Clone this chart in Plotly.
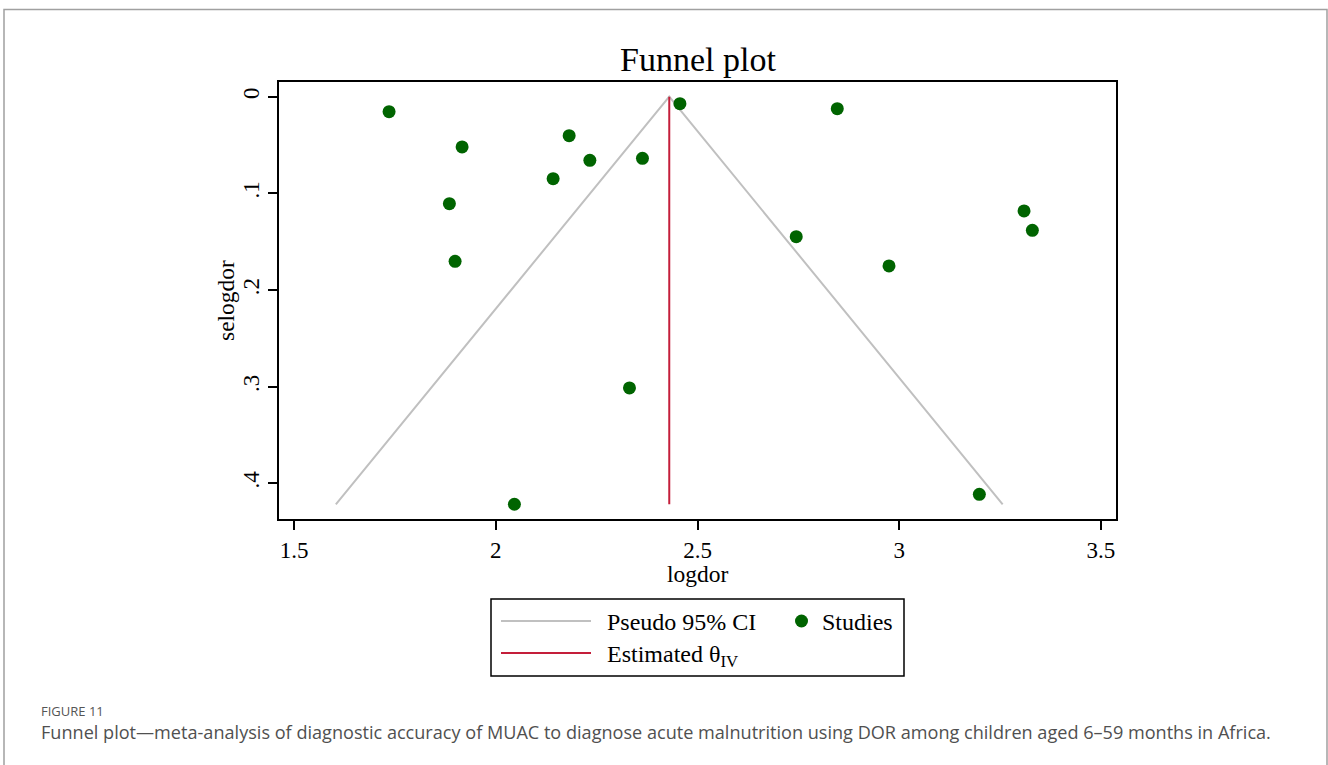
import plotly.graph_objects as go

# Study estimates: log diagnostic odds ratio and its standard error
logdor = [1.7356, 1.9166, 1.8851, 1.8992, 2.1819, 2.2332, 2.1422, 2.3636, 2.4564,
          2.8464, 2.7447, 2.9746, 3.3093, 3.3299, 2.3314, 2.0462, 3.1985]
selogdor = [0.0155, 0.0520, 0.1107, 0.1703, 0.0403, 0.0658, 0.0848, 0.0637, 0.0072,
            0.0124, 0.1448, 0.1751, 0.1182, 0.1382, 0.3013, 0.4216, 0.4113]

# Inverse-variance pooled estimate and pseudo 95% CI funnel vertices
theta_iv = 2.43
se_max = 0.4216
ci_x = [1.6037, 2.43, 3.2563]
ci_y = [0.4216, 0.0, 0.4216]

x_ticks = [1.5, 2, 2.5, 3, 3.5]
x_tick_text = ["1.5", "2", "2.5", "3", "3.5"]
y_ticks = [0, 0.1, 0.2, 0.3, 0.4]
y_tick_text = ["0", ".1", ".2", ".3", ".4"]

GREEN = "#006400"
RED = "#C41E3A"
GREY = "#C0C0C0"
SERIF = "Liberation Serif, Times New Roman, serif"
SANS = "Open Sans, Noto Sans, sans-serif"

fig = go.Figure()
fig.add_trace(go.Scatter(x=ci_x, y=ci_y, mode="lines",
                         line=dict(color=GREY, width=2), name="Pseudo 95% CI",
                         showlegend=False))
fig.add_trace(go.Scatter(x=[theta_iv, theta_iv], y=[0, se_max], mode="lines",
                         line=dict(color=RED, width=2), name="Estimated θ<sub>IV</sub>",
                         showlegend=False))
fig.add_trace(go.Scatter(x=logdor, y=selogdor, mode="markers",
                         marker=dict(color=GREEN, size=13, line=dict(width=0)),
                         name="Studies", showlegend=False))

L, R, T, B = 279, 1116, 82, 519
W, H = 1328, 765
pw, ph = R - L, B - T


def px(x):
    return (x - L) / pw


def py(y):
    return (B - y) / ph


axis_common = dict(showline=True, linecolor="black", linewidth=2, mirror=True,
                   ticks="outside", ticklen=9, tickwidth=1.5, tickcolor="black",
                   showgrid=False, zeroline=False,
                   tickfont=dict(family=SERIF, size=23, color="black"))

fig.update_xaxes(range=[1.4628, 3.5372], tickvals=x_ticks, ticktext=x_tick_text,
                 **axis_common)
fig.update_yaxes(range=[0.43685, -0.01521], tickvals=y_ticks, ticktext=y_tick_text,
                 tickangle=-90, **axis_common)

shapes = []
annotations = []

# axis titles
annotations.append(dict(text="logdor", xref="paper", yref="paper",
                        x=0.5, y=py(574), xanchor="center", yanchor="middle",
                        showarrow=False, font=dict(family=SERIF, size=23.5, color="black")))
annotations.append(dict(text="selogdor", xref="paper", yref="paper",
                        x=px(226), y=py(301), xanchor="center", yanchor="middle",
                        textangle=-90, showarrow=False,
                        font=dict(family=SERIF, size=23.5, color="black")))

# outer figure frame
shapes.append(dict(type="rect", xref="paper", yref="paper",
                   x0=px(4), x1=px(1327), y0=py(775), y1=py(9.5),
                   line=dict(color="#A0A0A0", width=1.5), fillcolor="rgba(0,0,0,0)",
                   layer="below"))

# chart title
annotations.append(dict(text="Funnel plot", xref="paper", yref="paper",
                        x=0.5, y=py(60), xanchor="center", yanchor="middle",
                        showarrow=False, font=dict(family=SERIF, size=34, color="black")))

# legend box
shapes.append(dict(type="rect", xref="paper", yref="paper",
                   x0=px(491), x1=px(904), y0=py(676), y1=py(599),
                   line=dict(color="black", width=1.5), fillcolor="white"))
shapes.append(dict(type="line", xref="paper", yref="paper",
                   x0=px(501), x1=px(591), y0=py(621), y1=py(621),
                   line=dict(color=GREY, width=2)))
shapes.append(dict(type="line", xref="paper", yref="paper",
                   x0=px(501), x1=px(591), y0=py(653), y1=py(653),
                   line=dict(color=RED, width=2)))
shapes.append(dict(type="circle", xref="paper", yref="paper",
                   x0=px(795), x1=px(808), y0=py(627.5), y1=py(614.5),
                   line=dict(width=0), fillcolor=GREEN))
for label, x0, y0 in [("Pseudo 95% CI", 605, 622), ("Studies", 820, 622),
                      ("Estimated θ<sub>IV</sub>", 605, 656)]:
    annotations.append(dict(text=label, xref="paper", yref="paper",
                            x=px(x0), y=py(y0), xanchor="left", yanchor="middle",
                            showarrow=False,
                            font=dict(family=SERIF, size=24, color="black")))

# figure caption
annotations.append(dict(text="FIGURE 11", xref="paper", yref="paper",
                        x=px(39), y=py(711), xanchor="left", yanchor="middle",
                        showarrow=False, font=dict(family=SANS, size=13, color="#555555")))
annotations.append(dict(text="Funnel plot—meta-analysis of diagnostic accuracy of MUAC to diagnose "
                             "acute malnutrition using DOR among children aged 6–59 months in Africa.",
                        xref="paper", yref="paper",
                        x=px(39), y=py(732), xanchor="left", yanchor="middle",
                        showarrow=False, font=dict(family=SANS, size=18.1, color="#505050")))

fig.update_layout(width=W, height=H, margin=dict(l=L, r=W - R, t=T, b=H - B),
                  paper_bgcolor="white", plot_bgcolor="white",
                  shapes=shapes, annotations=annotations, showlegend=False)

fig.write_html("out.html")
